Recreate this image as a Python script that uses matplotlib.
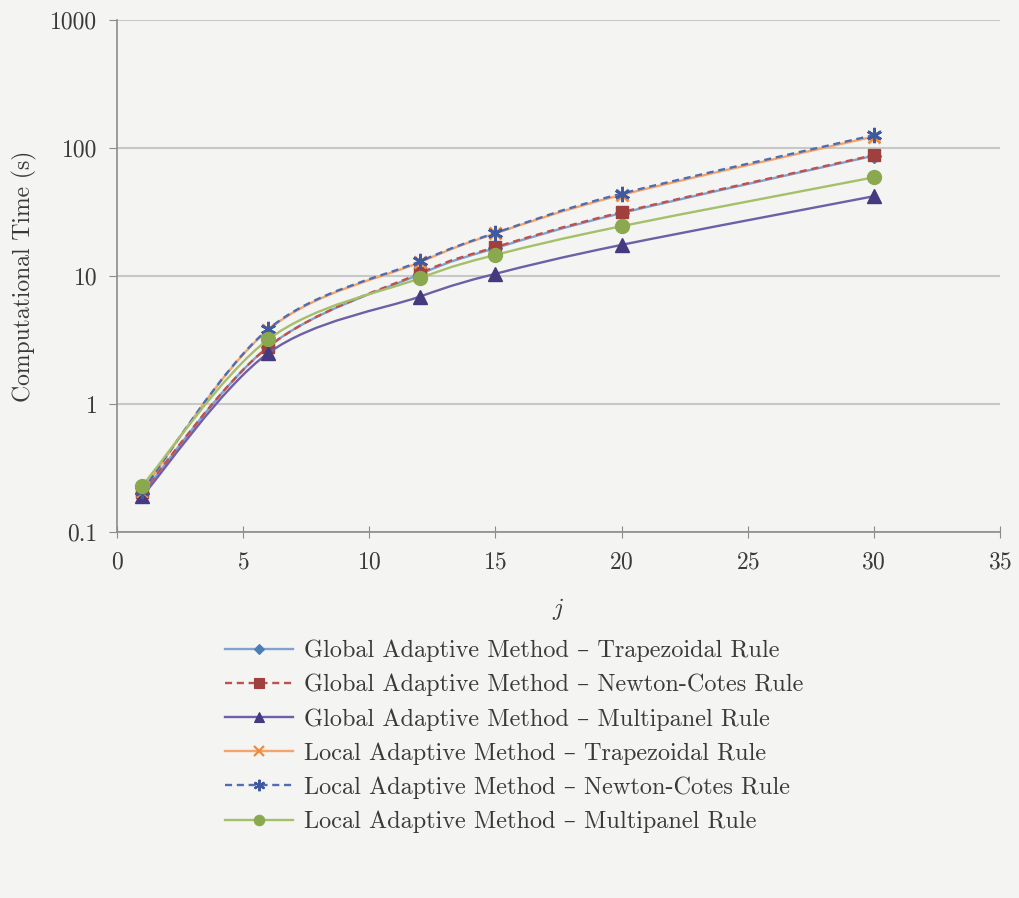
import numpy as np
import matplotlib.pyplot as plt
from matplotlib.path import Path
from matplotlib.patches import PathPatch
from matplotlib.lines import Line2D

plt.rcParams['font.family'] = ['cmr10', 'DejaVu Serif']
plt.rcParams['mathtext.fontset'] = 'cm'
plt.rcParams['axes.formatter.use_mathtext'] = True

# data
j_values = [1, 6, 12, 15, 20, 30]
global_trap = [0.20, 2.8, 10.3, 16.5, 31, 87]
global_nc = [0.205, 2.8, 10.5, 16.8, 31.5, 88]
global_mp = [0.19, 2.5, 6.9, 10.4, 17.5, 42]
local_trap = [0.21, 3.8, 12.8, 21.5, 43, 123]
local_nc = [0.21, 3.85, 13.0, 21.7, 44, 126]
local_mp = [0.23, 3.2, 9.6, 14.6, 24.5, 59]

labels = [
    "Global Adaptive Method \u2013 Trapezoidal Rule",
    "Global Adaptive Method \u2013 Newton-Cotes Rule",
    "Global Adaptive Method \u2013 Multipanel Rule",
    "Local Adaptive Method \u2013 Trapezoidal Rule",
    "Local Adaptive Method \u2013 Newton-Cotes Rule",
    "Local Adaptive Method \u2013 Multipanel Rule",
]

# (values, line colour, marker colour, marker, size, linestyle)
series = [
    (global_trap, "#7EA3D0", "#4A7EBB", "D", 7, "-"),
    (global_nc, "#C0504D", "#A0403E", "s", 9, (0, (3, 2))),
    (global_mp, "#6F5FA6", "#45397F", "^", 10, "-"),
    (local_trap, "#F4A46A", "#F08A3C", "x", 9, "-"),
    (local_nc, "#4F6DB0", "#3F5A9E", (6, 2, 0), 11, (0, (3, 2))),
    (local_mp, "#A4C06A", "#8AA94F", "o", 10, "-"),
]


def smooth_path(x, y):
    # Excel-style smoothed line: Catmull-Rom bezier in (x, log y) space
    px = np.asarray(x, float)
    py = np.log10(np.asarray(y, float))
    verts = [(px[0], py[0])]
    codes = [Path.MOVETO]
    n = len(px)
    for i in range(n - 1):
        i0 = max(i - 1, 0)
        i3 = min(i + 2, n - 1)
        c1 = (px[i] + (px[i + 1] - px[i0]) / 6, py[i] + (py[i + 1] - py[i0]) / 6)
        c2 = (px[i + 1] - (px[i3] - px[i]) / 6, py[i + 1] - (py[i3] - py[i]) / 6)
        verts += [c1, c2, (px[i + 1], py[i + 1])]
        codes += [Path.CURVE4] * 3
    verts = [(vx, 10 ** vy) for vx, vy in verts]
    return Path(verts, codes)


bg = "#F4F4F2"
txt = "#3A3A3A"
fig = plt.figure(figsize=(10.19, 8.98), dpi=100, facecolor=bg)
ax = fig.add_axes([0.1148, 0.4076, 0.8665, 0.5701], facecolor=bg)
ax.set_yscale("log")
ax.set_xlim(0, 35)
ax.set_ylim(0.1, 1000)

for z, (vals, lc, mc, mk, ms, ls) in enumerate(series):
    patch = PathPatch(smooth_path(j_values, vals), fill=False, edgecolor=lc,
                      lw=1.7, linestyle=ls, zorder=3 + z)
    ax.add_patch(patch)
    mew = 2 if mk in ("x", (6, 2, 0)) else 1
    ax.plot(j_values, vals, linestyle="none", marker=mk, markersize=ms,
            color=mc, markeredgecolor=mc, markeredgewidth=mew, zorder=3 + z)

ax.set_xticks(range(0, 36, 5))
ax.set_yticks([0.1, 1, 10, 100, 1000])
ax.set_yticklabels(["0.1", "1", "10", "100", "1000"])
ax.minorticks_off()
ax.yaxis.grid(True, color="#C8C8C8", lw=1.5)
ax.set_axisbelow(True)
for s in ("top", "right"):
    ax.spines[s].set_visible(False)
for s in ("left", "bottom"):
    ax.spines[s].set_color("#8C8C8C")
    ax.spines[s].set_linewidth(1.2)
ax.tick_params(axis="x", direction="inout", length=8, color="#8C8C8C",
               labelsize=17, labelcolor=txt, pad=10)
ax.tick_params(axis="y", direction="out", length=6, color="#8C8C8C",
               labelsize=17, labelcolor=txt, pad=8)

ax.set_xlabel("$j$", fontsize=18, color=txt, labelpad=16)
ax.set_ylabel("Computational Time (s)", fontsize=17, color=txt, labelpad=10)

handles = []
for vals, lc, mc, mk, ms, ls in series:
    mew = 2 if mk in ("x", (6, 2, 0)) else 1
    handles.append(Line2D([], [], color=lc, lw=1.7, linestyle=ls, marker=mk,
                          markersize=ms * 0.75, markerfacecolor=mc,
                          markeredgecolor=mc, markeredgewidth=mew * 0.8))
leg = fig.legend(handles, labels, loc="upper center", bbox_to_anchor=(0.505, 0.312),
                 frameon=False, fontsize=17.5, handlelength=2.8, handletextpad=0.45,
                 labelspacing=0.48)
for t in leg.get_texts():
    t.set_color(txt)

fig.savefig("out.png", dpi=100, facecolor=bg)
